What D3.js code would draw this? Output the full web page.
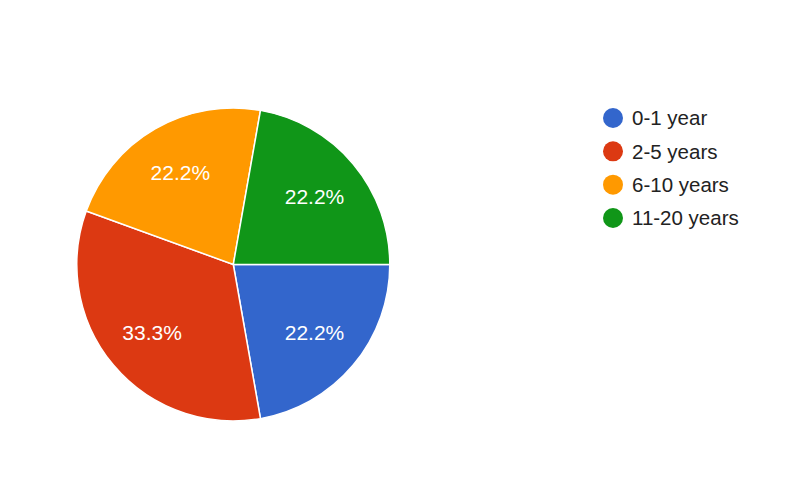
<!DOCTYPE html>
<html>
<head>
<meta charset="utf-8">
<script src="https://cdn.jsdelivr.net/npm/d3@7"></script>
<style>
  html, body { margin: 0; padding: 0; background: #fff; }
  svg { display: block; }
</style>
</head>
<body>
<svg id="chart" width="800" height="504"></svg>
<script>
const categories = ["0-1 year", "2-5 years", "6-10 years", "11-20 years"];
const values = [2, 3, 2, 2];
const colors = ["#3366cc", "#dc3912", "#ff9900", "#109618"];

const svg = d3.select("#chart");
const cx = 233.3, cy = 264.5, r = 156.5;
const total = d3.sum(values);
const data = categories.map((c, i) => ({ name: c, value: values[i], color: colors[i] }));

const pie = d3.pie().value(d => d.value).sort(null)
  .startAngle(Math.PI / 2).endAngle(Math.PI / 2 + 2 * Math.PI);
const arcs = pie(data);
const arc = d3.arc().innerRadius(0).outerRadius(r);
const labelArc = d3.arc().innerRadius(106).outerRadius(106);

const g = svg.append("g").attr("transform", `translate(${cx},${cy})`);
g.selectAll("path").data(arcs).join("path")
  .attr("d", arc)
  .attr("fill", d => d.data.color)
  .attr("stroke", "#fff")
  .attr("stroke-width", 1.5);

const fmt = d3.format(".1%");
g.selectAll("text").data(arcs).join("text")
  .attr("transform", d => `translate(${labelArc.centroid(d)})`)
  .attr("text-anchor", "middle")
  .attr("dy", "0.36em")
  .attr("fill", "#fff")
  .attr("font-family", "Arial, 'Liberation Sans', sans-serif")
  .attr("font-size", 21)
  .text(d => fmt(d.data.value / total));

const legendY = d3.scalePoint().domain(categories).range([118, 218]);
const lg = svg.append("g");
const items = lg.selectAll("g").data(data).join("g")
  .attr("transform", d => `translate(613,${legendY(d.name)})`);
items.append("circle").attr("r", 10).attr("fill", d => d.color);
items.append("text")
  .attr("x", 19).attr("dy", "0.36em")
  .attr("fill", "#222")
  .attr("font-family", "Arial, 'Liberation Sans', sans-serif")
  .attr("font-size", 20.5)
  .text(d => d.name);
</script>
</body>
</html>
